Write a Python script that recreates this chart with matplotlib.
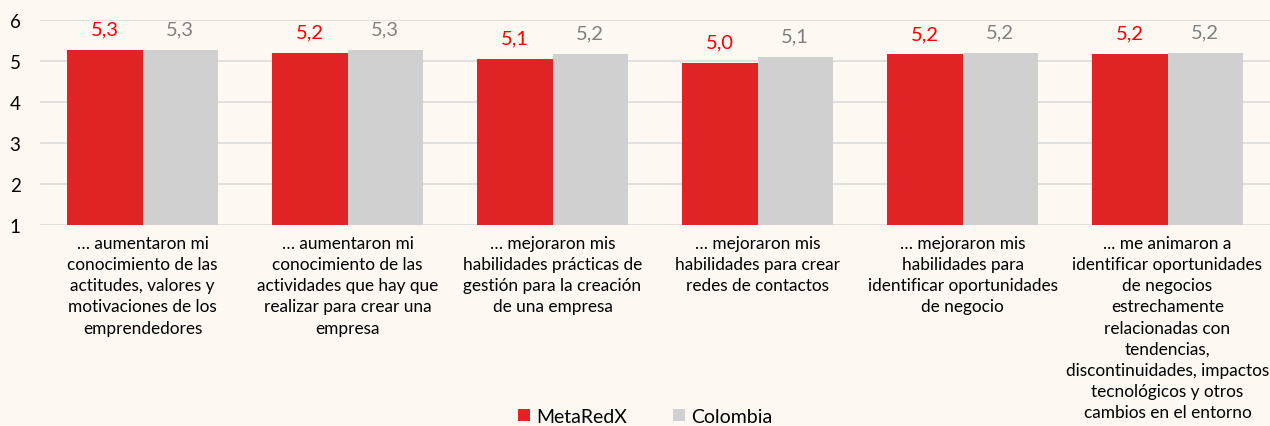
import matplotlib.pyplot as plt
import numpy as np

# datos
categorias = [
    "… aumentaron mi\nconocimiento de las\nactitudes, valores y\nmotivaciones de los\nemprendedores",
    "… aumentaron mi\nconocimiento de las\nactividades que hay que\nrealizar para crear una\nempresa",
    "… mejoraron mis\nhabilidades prácticas de\ngestión para la creación\nde una empresa",
    "… mejoraron mis\nhabilidades para crear\nredes de contactos",
    "… mejoraron mis\nhabilidades para\nidentificar oportunidades\nde negocio",
    "... me animaron a\nidentificar oportunidades\nde negocios\nestrechamente\nrelacionadas con\ntendencias,\ndiscontinuidades, impactos\ntecnológicos y otros\ncambios en el entorno",
]
metaredx = [5.27, 5.20, 5.06, 4.95, 5.16, 5.18]
colombia = [5.27, 5.27, 5.18, 5.10, 5.20, 5.20]
series = ["MetaRedX", "Colombia"]

plt.rcParams['font.family'] = ['Lato', 'DejaVu Sans']
bg = '#FEF8F2'

fig = plt.figure(figsize=(12.7, 4.27), dpi=100, facecolor=bg)
ax = fig.add_axes([40/1270, 1-226/427, 1-40/1270, (226-21)/427])
ax.set_facecolor(bg)

x = np.arange(len(categorias))
w = 0.366
b1 = ax.bar(x - w/2, [v - 1 for v in metaredx], w, bottom=1, color='#E02426', label=series[0], zorder=3)
b2 = ax.bar(x + w/2, [v - 1 for v in colombia], w, bottom=1, color='#D0D0D0', label=series[1], zorder=3)

for xi, v in zip(x, metaredx):
    ax.annotate(f"{v:.1f}".replace('.', ','), (xi - w/2, v), xytext=(0, 9), textcoords='offset points',
                ha='center', va='bottom', color='#FF0000', fontsize=14.5)
for xi, v in zip(x, colombia):
    ax.annotate(f"{v:.1f}".replace('.', ','), (xi + w/2, v), xytext=(0, 9), textcoords='offset points',
                ha='center', va='bottom', color='#808080', fontsize=14.5)

ax.set_xlim(-0.5, len(categorias) - 0.5)
ax.set_ylim(1, 6)
ax.set_yticks([1, 2, 3, 4, 5, 6])
ax.yaxis.grid(True, color='#DCDCDC', linewidth=1.2, zorder=0)
ax.set_xticks(x)
ax.set_xticklabels(categorias, fontsize=12.4, linespacing=1.4)
ax.tick_params(axis='both', length=0)
ax.tick_params(axis='y', labelsize=13.5, pad=14)
ax.tick_params(axis='x', pad=7)
for s in ax.spines.values():
    s.set_visible(False)

fig.legend(handles=[b1, b2], loc='center', bbox_to_anchor=(0.508, 0.022), ncol=2, frameon=False,
           fontsize=14, handlelength=0.6, handleheight=0.6, handletextpad=0.3, columnspacing=2.4,
           borderpad=0.1)

fig.savefig('out.png', dpi=100, facecolor=bg)
